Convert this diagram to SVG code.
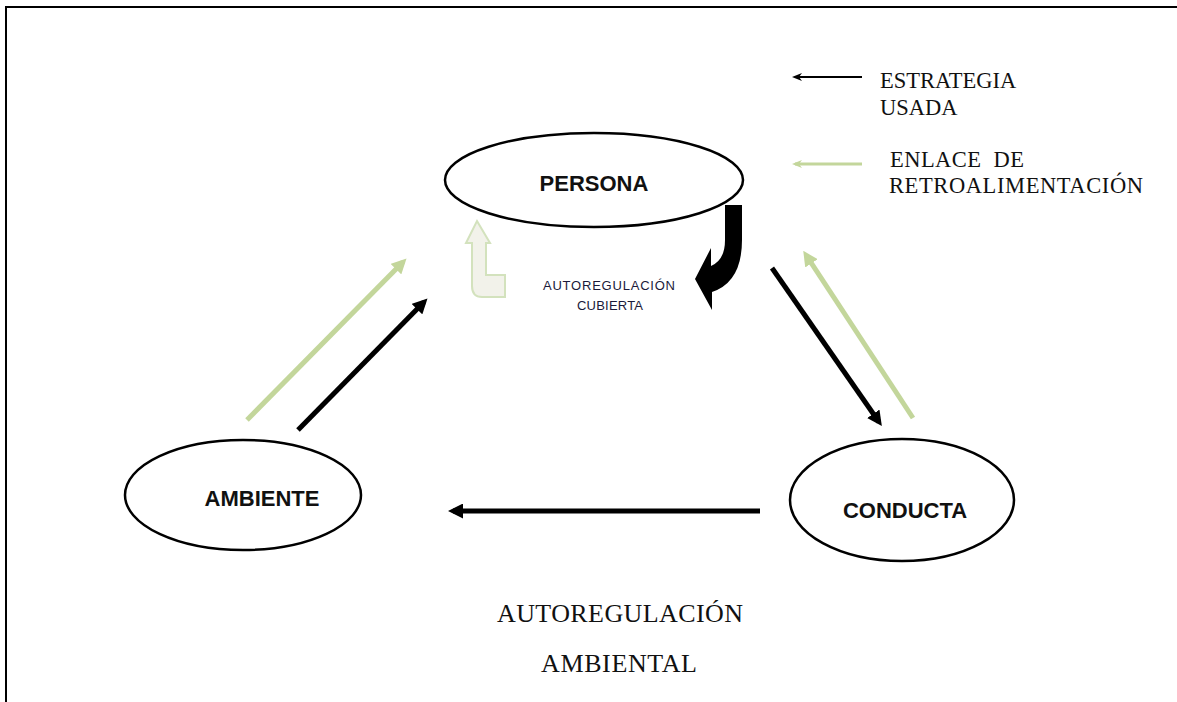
<svg xmlns="http://www.w3.org/2000/svg" width="1177" height="702" viewBox="0 0 1177 702">
<defs>
<style>
.node{fill:#fff;stroke:#000;stroke-width:2.5}
.lbl{font-family:"Liberation Sans","Open Sans",sans-serif;font-weight:bold;font-size:22px;fill:#111;text-anchor:middle}
.serif{font-family:"Liberation Serif","DejaVu Serif",serif;fill:#111}
.blk{stroke:#000;stroke-width:5;fill:none}
.grn{stroke:#c3d69b;stroke-width:5;fill:none}
</style>
<marker id="hb" viewBox="0 0 3 3" refX="2" refY="1.5" markerWidth="3" markerHeight="3" orient="auto" markerUnits="strokeWidth"><path d="M0,0 L3,1.5 L0,3 z" fill="#000"/></marker>
<marker id="hg" viewBox="0 0 3 3" refX="2" refY="1.5" markerWidth="3" markerHeight="3" orient="auto" markerUnits="strokeWidth"><path d="M0,0 L3,1.5 L0,3 z" fill="#c3d69b"/></marker>
<marker id="hbs" viewBox="0 0 10 8" refX="7" refY="4" markerWidth="10" markerHeight="8" orient="auto" markerUnits="userSpaceOnUse"><path d="M10,4 L0,0 L3,4 L0,8 z" fill="#000"/></marker>
<marker id="hgs" viewBox="0 0 10 8" refX="7" refY="4" markerWidth="10" markerHeight="8" orient="auto" markerUnits="userSpaceOnUse"><path d="M10,4 L0,0 L3,4 L0,8 z" fill="#c3d69b"/></marker>
</defs>
<rect width="1177" height="702" fill="#fff"/>
<path d="M6,702 L6,7 L1177,7" fill="none" stroke="#000" stroke-width="2"/>

<g id="connectors">
<line class="grn" x1="247" y1="420" x2="403" y2="262" marker-end="url(#hg)"/>
<line class="blk" x1="298" y1="430" x2="424" y2="302" marker-end="url(#hb)"/>
<line class="blk" x1="772" y1="268" x2="879" y2="422" marker-end="url(#hb)"/>
<line class="grn" x1="913" y1="418" x2="806" y2="255" marker-end="url(#hg)"/>
<line class="blk" x1="760" y1="511" x2="453" y2="511" marker-end="url(#hb)"/>
<path d="M725,205 L742,205 L742,240 Q742,282 712,292 L712,310 L695,279 L711,248 L711,266 Q725,260 725,240 Z" fill="#000"/>
<path d="M477,221 L490,243 L486,243 L486,275 L505,275 L505,297 L482,297 Q472,297 472,286 L472,243 L466,243 Z" fill="#f2f2ea" stroke="#d3e2bd" stroke-width="2"/>
</g>

<g id="legend">
<line x1="862" y1="77" x2="795" y2="77" stroke="#000" stroke-width="2" marker-end="url(#hbs)"/>
<line x1="862" y1="164" x2="795" y2="164" stroke="#c3d69b" stroke-width="3" marker-end="url(#hgs)"/>
<text class="serif" font-size="22.5" x="880" y="88">ESTRATEGIA</text>
<text class="serif" font-size="22.5" x="880" y="115">USADA</text>
<text class="serif" font-size="22.5" x="890" y="167" textLength="134" xml:space="preserve">ENLACE  DE</text>
<text class="serif" font-size="22.5" x="889" y="193" textLength="254">RETROALIMENTACIÓN</text>
</g>

<g id="persona">
<ellipse class="node" cx="594" cy="180" rx="149" ry="47"/>
<text class="lbl" x="594" y="191" font-size="21">PERSONA</text>
</g>
<g id="ambiente">
<ellipse class="node" cx="243" cy="495" rx="118" ry="55"/>
<text class="lbl" x="262" y="506">AMBIENTE</text>
</g>
<g id="conducta">
<ellipse class="node" cx="902" cy="500" rx="112" ry="61"/>
<text class="lbl" x="905" y="518">CONDUCTA</text>
</g>

<g id="cubierta">
<text x="609" y="290" font-family="Liberation Sans, Open Sans, sans-serif" font-size="13" fill="#1a1a3a" text-anchor="middle" textLength="132">AUTOREGULACIÓN</text>
<text x="610" y="310" font-family="Liberation Sans, Open Sans, sans-serif" font-size="13" fill="#1a1a3a" text-anchor="middle" textLength="66">CUBIERTA</text>
</g>

<g id="ambiental">
<text class="serif" font-size="26" x="620" y="622" text-anchor="middle" textLength="246">AUTOREGULACIÓN</text>
<text class="serif" font-size="26" x="619" y="672" text-anchor="middle" textLength="156">AMBIENTAL</text>
</g>
</svg>
